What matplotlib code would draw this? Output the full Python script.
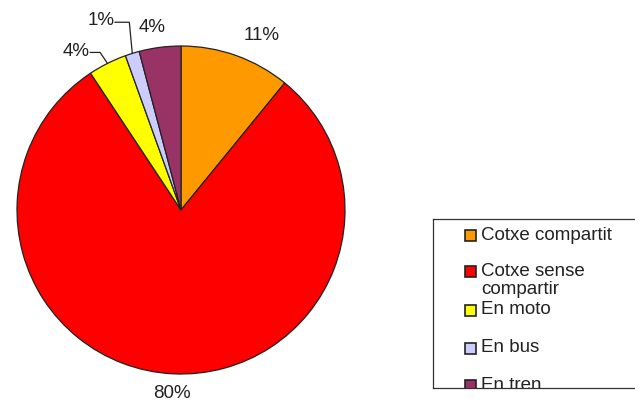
import matplotlib.pyplot as plt
import matplotlib.patches as mpatches
import numpy as np

plt.rcParams['font.family'] = ['Liberation Sans', 'DejaVu Sans']

categorias = ['Cotxe compartit', 'Cotxe sense\ncompartir', 'En moto', 'En bus', 'En tren']
valores = [10.9, 79.8, 3.8, 1.4, 4.1]
etiquetas = ['11%', '80%', '4%', '1%', '4%']
colores = ['#FF9900', '#FF0000', '#FFFF00', '#CCCCFF', '#993366']

fig = plt.figure(figsize=(6.35, 4.03), dpi=100)

# Eje del pastel: centro en (181, 210) px, radio 164 px
cx, cy, r = 181, 210, 164
ax = fig.add_axes([0, 0, 435 / 635, 1])
wedges, _ = ax.pie(valores, colors=colores, startangle=90, counterclock=False,
                   radius=1, wedgeprops=dict(edgecolor='#222222', linewidth=0.9))
ax.set_aspect('auto')
ax.set_xlim(-cx / r, (435 - cx) / r)
ax.set_ylim(-(403 - cy) / r, cy / r)
ax.axis('off')

def punto(w, rr):
    ang = np.deg2rad((w.theta1 + w.theta2) / 2)
    return rr * np.cos(ang), rr * np.sin(ang)

fs = 13.5
color_txt = '#222222'

# etiquetas grandes
x, y = punto(wedges[0], 1.13)
ax.text(x, y, etiquetas[0], fontsize=fs, color=color_txt, ha='left', va='center')
x, y = punto(wedges[1], 1.12)
ax.text(x, y, etiquetas[1], fontsize=fs, color=color_txt, ha='center', va='center')
x, y = punto(wedges[4], 1.12)
ax.text(x - 0.03, y, etiquetas[4], fontsize=fs, color=color_txt, ha='center', va='center')

# etiquetas con linea guia
x0, y0 = punto(wedges[2], 1.0)
ax.plot([x0, x0 - 0.045, x0 - 0.105], [y0, y0 + 0.067, y0 + 0.067], color=color_txt, lw=0.9)
ax.text(x0 - 0.11, y0 + 0.075, etiquetas[2], fontsize=fs, color=color_txt, ha='right', va='center')

x0, y0 = punto(wedges[3], 1.0)
ax.plot([x0, x0 - 0.018, x0 - 0.105], [y0, y0 + 0.19, y0 + 0.19], color=color_txt, lw=0.9)
ax.text(x0 - 0.11, y0 + 0.198, etiquetas[3], fontsize=fs, color=color_txt, ha='right', va='center')

# Leyenda recortada
lax = fig.add_axes([433 / 635, 15 / 403, 0.5, 169 / 403])
lax.set_xlim(0, 317)
lax.set_ylim(169, 0)
lax.set_xticks([])
lax.set_yticks([])
for s in lax.spines.values():
    s.set_linewidth(0.9)
    s.set_color('#333333')

filas = [16, 52, 91, 129, 166]
for i, (cat, col) in enumerate(zip(categorias, colores)):
    yy = filas[i]
    lax.add_patch(mpatches.Rectangle((32, yy - 5.5), 11, 11, facecolor=col,
                                     edgecolor='#222222', lw=1.2, clip_on=True))
    if '\n' in cat:
        lax.text(48, yy - 8, cat, fontsize=fs, color=color_txt, va='top',
                 linespacing=1.1, clip_on=True)
    else:
        lax.text(48, yy, cat, fontsize=fs, color=color_txt, va='center', clip_on=True)

fig.savefig('out.png', dpi=100)
